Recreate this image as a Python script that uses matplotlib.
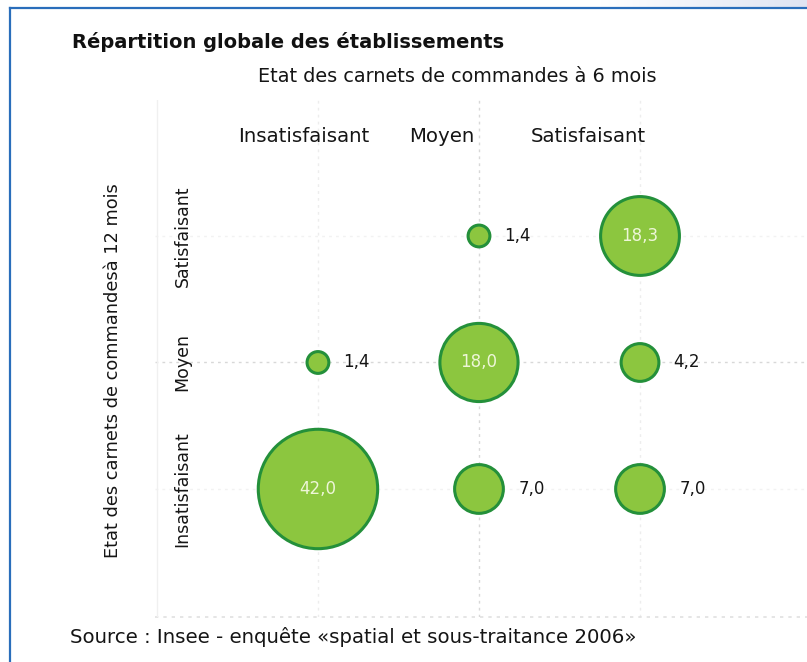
import numpy as np
import matplotlib
matplotlib.use("Agg")
import matplotlib.pyplot as plt
from matplotlib.lines import Line2D

# Data
col_labels = ['Insatisfaisant', 'Moyen', 'Satisfaisant']   # carnets a 6 mois
row_labels = ['Insatisfaisant', 'Moyen', 'Satisfaisant']   # carnets a 12 mois
bubble_col = [0, 1, 1, 2, 0, 2, 1, 2]
bubble_row = [0, 0, 1, 1, 1, 2, 2, 0]
bubble_val = [42.0, 7.0, 18.0, 4.2, 1.4, 18.3, 1.4, 7.0]

fill_color = '#8cc63f'
edge_color = '#24903a'
text_color = '#151515'

plt.rcParams['font.family'] = 'DejaVu Sans'

fig = plt.figure(figsize=(8.07, 6.62), dpi=100)
W, H = 807, 662

# blue frame of the page
fig.add_artist(Line2D([10 / W, 10 / W], [0, 1 - 8 / H], color='#2a6ebb', lw=1.6))
fig.add_artist(Line2D([10 / W, 1], [1 - 8 / H, 1 - 8 / H], color='#2a6ebb', lw=1.6))
gax = fig.add_axes([600 / W, 1 - 7 / H, 207 / W, 7 / H])
gax.imshow(np.linspace(0, 1, 100).reshape(1, -1),
           cmap=matplotlib.colors.LinearSegmentedColormap.from_list('g', ['#ffffff', '#dfe4f2']),
           aspect='auto', extent=[0, 1, 0, 1])
gax.axis('off')

# plot area
ax = fig.add_axes([155 / W, 1 - 617 / H, 652 / W, 517 / H])
ax.set_xlim(-1.012, 3.037)
ax.set_ylim(-1.012, 3.075)
for s in ax.spines.values():
    s.set_visible(False)
ax.set_xticks([])
ax.set_yticks([])

# faint dotted grid
for i in range(3):
    ax.axvline(i, color='#d8d8d8' if i == 1 else '#ededed', lw=1, ls=(0, (2, 3)), zorder=0)
    ax.axhline(i, color='#d8d8d8' if i == 1 else '#f2f2f2', lw=1, ls=(0, (2, 3)), zorder=0)
ax.axhline(-1.012, color='#e0e0e0', lw=1.2, ls=(0, (2, 3)), zorder=0, clip_on=False)
ax.axvline(-1.0, color='#f0f0f0', lw=1, zorder=0)

# bubbles (area proportional to value)
vals = np.array(bubble_val)
ax.scatter(bubble_col, bubble_row, s=176 * vals, c=fill_color,
           edgecolors=edge_color, linewidths=2.2, zorder=3)

for x, y, v in zip(bubble_col, bubble_row, bubble_val):
    lab = f'{v:.1f}'.replace('.', ',')
    if v > 10:
        ax.text(x, y, lab, ha='center', va='center', color='#eef6d8',
                fontsize=12, zorder=4)
    else:
        off = 0.72 * (9.6 * np.sqrt(v) + 14)
        ax.annotate(lab, (x, y), xytext=(off, 0), textcoords='offset points',
                    ha='left', va='center', fontsize=12, color=text_color, zorder=4)

# category labels
col_label_x = [-0.09, 0.77, 1.68]
for x, lab in zip(col_label_x, col_labels):
    ax.text(x, 2.79, lab, ha='center', va='center', fontsize=14.2, color=text_color)

for y, lab in zip([0.0, 1.0, 2.0], row_labels):
    ax.text(-0.84, y, lab, rotation=90, ha='center', va='center',
            fontsize=12.5, color=text_color)

# titles
fig.text(72 / W, 1 - 42 / H, 'Répartition globale des établissements',
         fontsize=14, fontweight='bold', ha='left', va='center', color='#111111')
fig.text(457 / W, 1 - 77 / H, 'Etat des carnets de commandes à 6 mois',
         fontsize=13.9, ha='center', va='center', color=text_color)
fig.text(113 / W, 1 - 371 / H, 'Etat des carnets de commandesà 12 mois',
         fontsize=12.8, rotation=90, ha='center', va='center', color=text_color)
fig.text(70 / W, 1 - 637 / H, 'Source : Insee - enquête «spatial et sous-traitance 2006»',
         fontsize=14.2, ha='left', va='center', color=text_color)

fig.savefig('out.png', dpi=100)
